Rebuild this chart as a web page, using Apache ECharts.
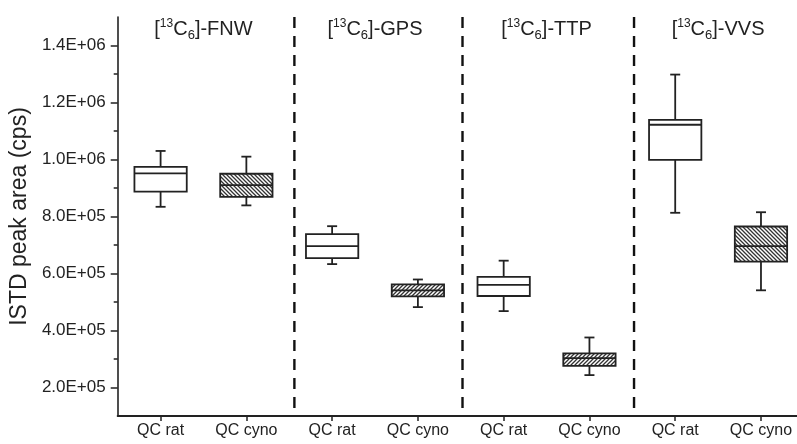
<!DOCTYPE html>
<html><head><meta charset="utf-8">
<script src="https://cdn.jsdelivr.net/npm/echarts@6/dist/echarts.min.js"></script>
<style>html,body{margin:0;padding:0;background:#fff}#c{width:797px;height:444px}</style>
</head><body><div id="c"></div>
<script>
// ---- data ----
const categories = ['QC rat', 'QC cyno', 'QC rat', 'QC cyno', 'QC rat', 'QC cyno', 'QC rat', 'QC cyno'];
const compounds = ['FNW', 'GPS', 'TTP', 'VVS'];
const whiskerLow  = [834000, 839000, 633000, 482000, 468000, 243500, 813000, 541000];
const q1          = [887000, 869000, 654000, 520000, 521000, 276000, 999000, 642000];
const median      = [951000, 910000, 696000, 541000, 560000, 303000, 1122000, 696000];
const q3          = [974000, 950000, 738000, 562000, 588000, 319500, 1139000, 765000];
const whiskerHigh = [1030000, 1010000, 766000, 579000, 645000, 375500, 1298000, 815000];
const hatchDir = ['', '\\', '', '/', '', '/', '', '\\'];
const yTickValues = [200000, 400000, 600000, 800000, 1000000, 1200000, 1400000];
const yMinorValues = [300000, 500000, 700000, 900000, 1100000, 1300000];
const dividerPositions = [1.56, 3.52, 5.52];

// ---- helpers ----
const FONT = '"Liberation Sans", Arial, sans-serif';
function makeHatch(dir) {
  const c = document.createElement('canvas');
  c.width = 4; c.height = 4;
  const g = c.getContext('2d');
  g.fillStyle = '#fff'; g.fillRect(0, 0, 4, 4);
  g.strokeStyle = '#333'; g.lineWidth = 1.3;
  g.beginPath();
  if (dir === '\\') {
    g.moveTo(-1, -1); g.lineTo(5, 5);
    g.moveTo(-1, 3); g.lineTo(1, 5);
    g.moveTo(3, -1); g.lineTo(5, 1);
  } else {
    g.moveTo(-1, 5); g.lineTo(5, -1);
    g.moveTo(-1, 1); g.lineTo(1, -1);
    g.moveTo(3, 5); g.lineTo(5, 3);
  }
  g.stroke();
  return c;
}
const patterns = { '\\': makeHatch('\\'), '/': makeHatch('/') };
function sci(v) {
  const e = Math.floor(Math.log10(v) + 1e-9);
  const m = v / Math.pow(10, e);
  return m.toFixed(1) + 'E+' + String(e).padStart(2, '0');
}

const boxData = categories.map((c, i) => [i, whiskerLow[i], q1[i], median[i], q3[i], whiskerHigh[i]]);

const chart = echarts.init(document.getElementById('c'), null, { renderer: 'canvas' });
const STROKE = '#222';
chart.setOption({
  animation: false,
  backgroundColor: '#fff',
  grid: { left: 112, right: 0, top: 17, bottom: 28 },
  xAxis: {
    type: 'value', min: -0.5, max: 7.42,
    splitLine: { show: false },
    axisLine: { show: true, onZero: false, lineStyle: { color: STROKE, width: 2 } },
    axisTick: { show: true, customValues: categories.map((c, i) => i), length: 5, lineStyle: { color: STROKE, width: 1.5 } },
    axisLabel: { customValues: categories.map((c, i) => i), formatter: v => categories[Math.round(v)], color: '#222', fontSize: 16, fontFamily: FONT, margin: 7 }
  },
  yAxis: [{
    type: 'value', min: 100000, max: 1500000, interval: 100000,
    name: 'ISTD peak area (cps)', nameLocation: 'middle', nameGap: 76,
    nameTextStyle: { fontSize: 23, color: '#222', fontFamily: FONT },
    splitLine: { show: false },
    axisLine: { show: true, onZero: false, lineStyle: { color: STROKE, width: 1.6 } },
    axisTick: { show: true, customValues: yTickValues, length: 7, lineStyle: { color: STROKE, width: 1.5 } },
    axisLabel: { customValues: yTickValues, formatter: sci, color: '#222', fontSize: 17, fontFamily: FONT, margin: 12 }
  }, {
    type: 'value', min: 100000, max: 1500000, interval: 100000, position: 'left',
    splitLine: { show: false },
    axisLine: { show: false, onZero: false },
    axisTick: { show: true, customValues: yMinorValues, length: 4, lineStyle: { color: STROKE, width: 1.5 } },
    axisLabel: { show: false }
  }],
  series: [{
    type: 'custom',
    silent: true,
    data: dividerPositions.map(v => [v, 1000000]),
    encode: { x: 0, y: 1 },
    renderItem: function (params, api) {
      const p = api.coord([api.value(0), api.value(1)]);
      const cs = params.coordSys;
      return {
        type: 'line',
        shape: { x1: p[0], y1: cs.y, x2: p[0], y2: cs.y + cs.height - 8 },
        style: { stroke: '#111', lineWidth: 2.4, lineDash: [11, 8] }
      };
    }
  }, {
    type: 'custom',
    silent: true,
    data: compounds.map((c, i) => [2 * i + 0.5, 1000000]),
    encode: { x: 0, y: 1 },
    renderItem: function (params, api) {
      const p = api.coord([api.value(0), api.value(1)]);
      const cs = params.coordSys;
      return {
        type: 'text',
        x: p[0], y: cs.y + 12.5,
        style: {
          text: '[{sup|13}C{sub|6}]-' + compounds[params.dataIndex],
          fill: '#222', fontSize: 20, fontFamily: FONT, lineHeight: 24,
          align: 'center', verticalAlign: 'middle',
          rich: {
            sup: { fontSize: 12, lineHeight: 15, verticalAlign: 'top', fill: '#222', fontFamily: FONT },
            sub: { fontSize: 13, lineHeight: 13, verticalAlign: 'bottom', fill: '#222', fontFamily: FONT }
          }
        }
      };
    }
  }, {
    type: 'custom',
    silent: true,
    data: boxData,
    encode: { x: 0, y: [1, 2, 3, 4, 5] },
    renderItem: function (params, api) {
      const i = params.dataIndex;
      const x = api.value(0);
      const pLo = api.coord([x, api.value(1)]);
      const pQ1 = api.coord([x, api.value(2)]);
      const pMed = api.coord([x, api.value(3)]);
      const pQ3 = api.coord([x, api.value(4)]);
      const pHi = api.coord([x, api.value(5)]);
      const cx = pLo[0];
      const bw = api.size([1, 0])[0] * 0.61;
      const cap = 10;
      const st = { stroke: STROKE, lineWidth: 1.8, fill: null };
      const fill = hatchDir[i] ? { image: patterns[hatchDir[i]], repeat: 'repeat' } : '#fff';
      return {
        type: 'group',
        children: [
          { type: 'line', shape: { x1: cx, y1: pQ3[1], x2: cx, y2: pHi[1] }, style: st },
          { type: 'line', shape: { x1: cx - cap / 2, y1: pHi[1], x2: cx + cap / 2, y2: pHi[1] }, style: st },
          { type: 'line', shape: { x1: cx, y1: pQ1[1], x2: cx, y2: pLo[1] }, style: st },
          { type: 'line', shape: { x1: cx - cap / 2, y1: pLo[1], x2: cx + cap / 2, y2: pLo[1] }, style: st },
          { type: 'rect', shape: { x: cx - bw / 2, y: pQ3[1], width: bw, height: pQ1[1] - pQ3[1] }, style: { fill: fill, stroke: STROKE, lineWidth: 1.8 } },
          { type: 'line', shape: { x1: cx - bw / 2, y1: pMed[1], x2: cx + bw / 2, y2: pMed[1] }, style: st }
        ]
      };
    }
  }]
});
</script>
</body></html>
